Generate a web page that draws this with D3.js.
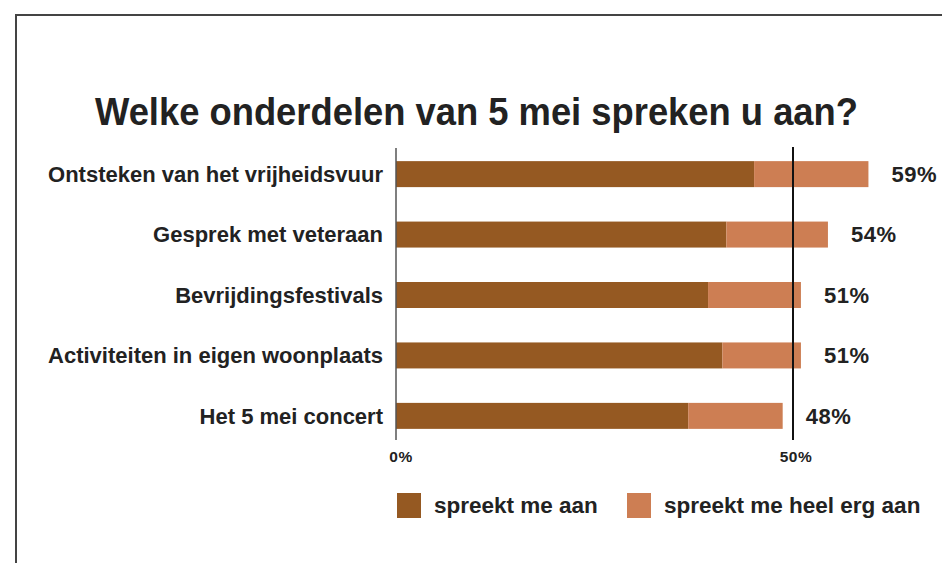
<!DOCTYPE html>
<html><head><meta charset="utf-8">
<script src="https://cdn.jsdelivr.net/npm/d3@7"></script>
<style>body{margin:0;background:#fff}svg{display:block}</style>
</head><body>
<svg id="c" width="942" height="563"></svg>
<script>
const categories = ["Ontsteken van het vrijheidsvuur","Gesprek met veteraan","Bevrijdingsfestivals","Activiteiten in eigen woonplaats","Het 5 mei concert"];
const spreekt = [45.1, 41.6, 39.3, 41.1, 36.8];
const heelErg = [14.4, 12.8, 11.7, 9.9, 11.9];
const totals = ["59%","54%","51%","51%","48%"];
const ticks = [0, 50];
const tickLabels = ["0%","50%"];
const seriesNames = ["spreekt me aan","spreekt me heel erg aan"];
const colors = ["#955922","#CD7E53"];

const svg = d3.select("#c");
const font = "'Liberation Sans', Arial, Helvetica, sans-serif";
const ink = "#222";

// frame
svg.append("line").attr("x1",16).attr("x2",942).attr("y1",15).attr("y2",15).attr("stroke","#444").attr("stroke-width",2);
svg.append("line").attr("x1",16).attr("x2",16).attr("y1",14).attr("y2",563).attr("stroke","#444").attr("stroke-width",2);

svg.append("text").attr("x",95).attr("y",125).attr("font-family",font).attr("font-weight","bold")
  .attr("font-size",38).attr("fill",ink).attr("textLength",763).attr("lengthAdjust","spacingAndGlyphs")
  .text("Welke onderdelen van 5 mei spreken u aan?");

const x = d3.scaleLinear().domain([0,50]).range([396,793]);
const y = d3.scaleBand().domain(categories).range([143,447]).paddingInner(0.57).paddingOuter(0.3);

const stack = categories.map((c,i)=>({c, a:spreekt[i], b:heelErg[i], t:totals[i]}));

const g = svg.append("g");
stack.forEach(d=>{
  g.append("rect").attr("x",x(0)).attr("y",y(d.c)).attr("width",x(d.a)-x(0)).attr("height",y.bandwidth()).attr("fill",colors[0]);
  g.append("rect").attr("x",x(d.a)).attr("y",y(d.c)).attr("width",x(d.a+d.b)-x(d.a)).attr("height",y.bandwidth()).attr("fill",colors[1]);
  g.append("text").attr("x",x(d.a+d.b)+23).attr("y",y(d.c)+y.bandwidth()/2).attr("dy","0.36em")
    .attr("font-family",font).attr("font-weight","bold").attr("font-size",22).attr("letter-spacing",0.5).attr("fill",ink).text(d.t);
  g.append("text").attr("x",383).attr("y",y(d.c)+y.bandwidth()/2).attr("dy","0.36em").attr("text-anchor","end")
    .attr("font-family",font).attr("font-weight","bold").attr("font-size",22).attr("fill",ink).text(d.c);
});

// reference lines
svg.append("line").attr("x1",x(0)).attr("x2",x(0)).attr("y1",148).attr("y2",440).attr("stroke","#555").attr("stroke-width",1.5);
svg.append("line").attr("x1",x(50)).attr("x2",x(50)).attr("y1",147).attr("y2",440).attr("stroke","#111").attr("stroke-width",2);

ticks.forEach((t,i)=>{
  svg.append("text").attr("x",x(t)+(i===0?5:3)).attr("y",462).attr("text-anchor","middle")
   .attr("font-family",font).attr("font-weight","bold").attr("font-size",15.5).attr("letter-spacing",0.5).attr("fill",ink).text(tickLabels[i]);
});

// legend
const lx = [397, 627];
seriesNames.forEach((n,i)=>{
  svg.append("rect").attr("x",lx[i]).attr("y",493).attr("width",24).attr("height",25).attr("fill",colors[i]);
  svg.append("text").attr("x",lx[i]+37).attr("y",505).attr("dy","0.36em").attr("font-family",font).attr("font-weight","bold")
    .attr("font-size",22.5).attr("fill",ink).text(n);
});
</script>
</body></html>
